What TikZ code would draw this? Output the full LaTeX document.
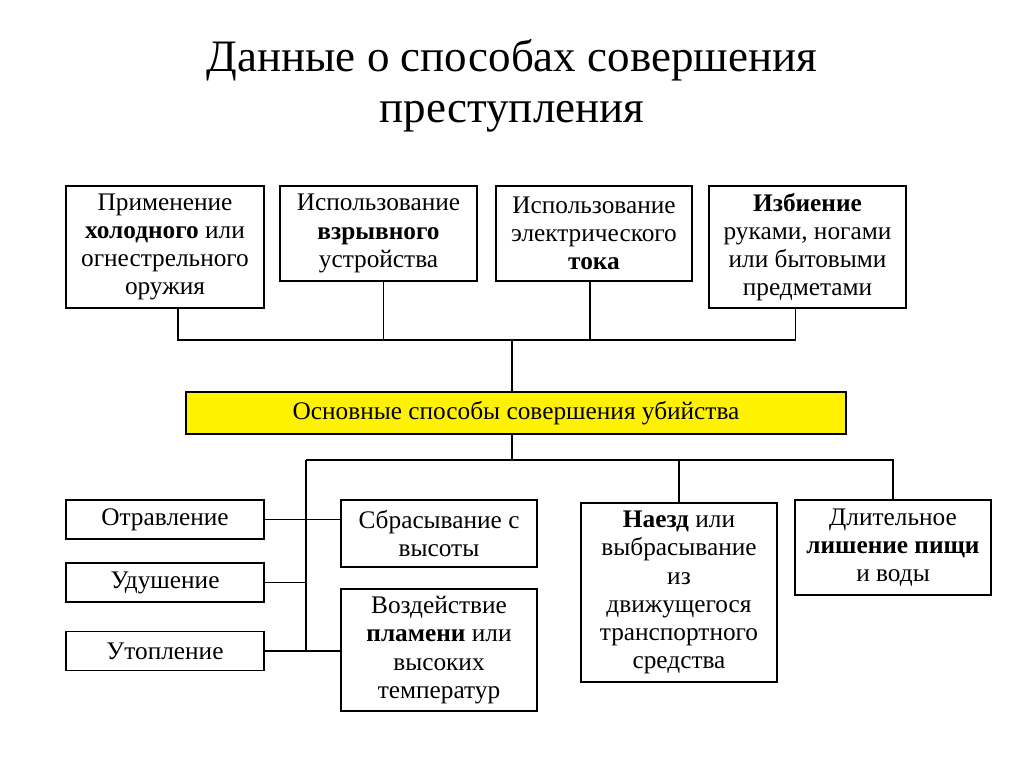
\documentclass[tikz,border=0pt]{standalone}
\usepackage{fontspec}
\setmainfont{Liberation Serif}
\tikzset{
  blk/.style={draw, fill=white, align=center, inner sep=2pt, font=\fontsize{18}{20}\selectfont},
  mainblk/.style={blk, fill=yellow},
}
\begin{document}
\begin{tikzpicture}[x=0.025cm,y=-0.025cm,line width=1pt]
\useasboundingbox (0,0) rectangle (1024,767);
\node[align=center, font=\fontsize{32}{36}\selectfont] (title) at (512,86) {Данные о способах совершения\\преступления};
\node[blk, minimum width=4.95cm, minimum height=3.05cm] (weapon) at (165,247) {Применение\\\textbf{холодного} или\\огнестрельного\\оружия};
\node[blk, minimum width=4.925cm, minimum height=2.375cm] (blast) at (378.5,233.5) {Использование\\\textbf{взрывного}\\устройства};
\node[blk, minimum width=4.9cm, minimum height=2.375cm] (current) at (594,233.5) {Использование\\электрического\\\textbf{тока}};
\node[blk, minimum width=4.925cm, minimum height=3.05cm] (beat) at (807.5,247) {\textbf{Избиение}\\руками, ногами\\или бытовыми\\предметами};
\node[mainblk, minimum width=16.5cm, minimum height=1.05cm] (main) at (516,413) {Основные способы совершения убийства};
\node[blk, minimum width=4.95cm, minimum height=0.975cm] (poison) at (165,519.5) {Отравление};
\node[blk, minimum width=4.95cm, minimum height=0.975cm] (choke) at (165,582.5) {Удушение};
\node[blk, minimum width=4.95cm, minimum height=0.975cm] (drown) at (165,651) {Утопление};
\node[blk, minimum width=4.9cm, minimum height=1.675cm] (fall) at (439,533.5) {Сбрасывание с\\высоты};
\node[blk, minimum width=4.9cm, minimum height=3.05cm] (flame) at (439,650) {Воздействие\\\textbf{пламени} или\\высоких\\температур};
\node[blk, minimum width=4.9cm, minimum height=4.475cm] (vehicle) at (679,592.5) {\textbf{Наезд} или\\выбрасывание\\из\\движущегося\\транспортного\\средства};
\node[blk, minimum width=4.9cm, minimum height=2.375cm] (hunger) at (893,547.5) {Длительное\\\textbf{лишение пищи}\\и воды};
\coordinate (upbus) at (512,340);
\coordinate (lowbus) at (512,460);
\coordinate (trunk) at (306,460);
\draw ([xshift=0.325cm]weapon.south) |- (upbus);
\draw ([xshift=-0.3cm]beat.south) |- (upbus);
\draw ([xshift=0.125cm]blast.south) -- ([xshift=0.125cm]blast.south |- upbus);
\draw ([xshift=-0.1cm]current.south) -- ([xshift=-0.1cm]current.south |- upbus);
\draw (upbus) -- (upbus |- main.north);
\draw (lowbus |- main.south) -- (lowbus);
\draw (trunk) -| (hunger.north);
\draw (vehicle.north) -- (vehicle.north |- trunk);
\draw (trunk) -- (trunk |- drown.east);
\draw (poison.east) -- (poison.east -| fall.west);
\draw (choke.east) -- (choke.east -| trunk);
\draw (drown.east) -- (drown.east -| flame.west);
\end{tikzpicture}
\end{document}
